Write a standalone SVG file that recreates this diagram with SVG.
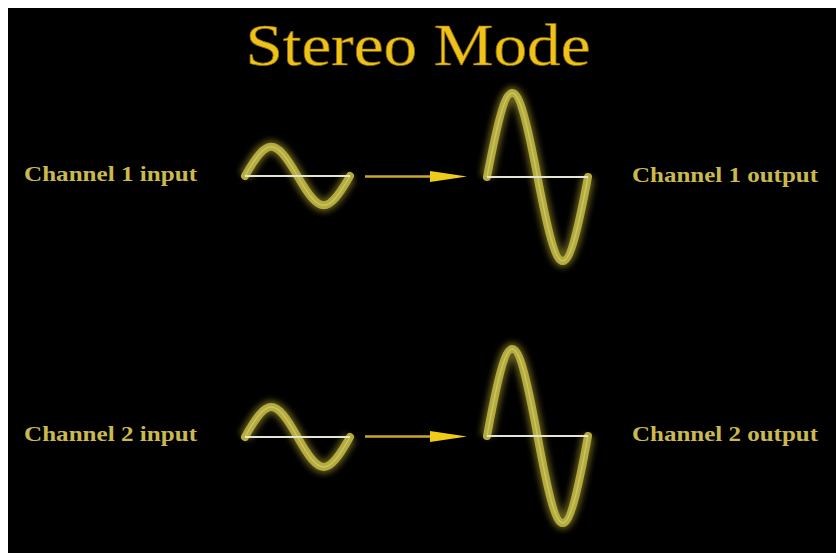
<svg xmlns="http://www.w3.org/2000/svg" width="836" height="553" viewBox="0 0 836 553">
<defs>
<filter id="glow" x="-30%" y="-30%" width="160%" height="160%"><feGaussianBlur stdDeviation="3"/></filter>
<style>
.lbl{font-family:"Liberation Serif","Times New Roman",serif;font-size:21px;font-weight:bold;fill:#c9b94e}
.title{font-family:"Liberation Serif","Times New Roman",serif;font-size:60px;fill:#eec21a;stroke:#8a6a00;stroke-width:0.7}
.wglow{fill:none;stroke:#a89a30;stroke-width:13;opacity:0.6;filter:url(#glow)}
.wave{fill:none;stroke:#b5ac3e;stroke-width:8;stroke-linecap:round}
.wcore{fill:none;stroke:#e4dc8a;stroke-width:1.5;opacity:0.5}
.axis{stroke:#e6e4d4;stroke-width:2}
.arr{stroke:#c6a92a;stroke-width:2.5}
.head{fill:#f0cc18}
</style>
</defs>
<rect x="0" y="0" width="836" height="553" fill="#ffffff"/>
<rect x="8" y="8" width="828" height="545" fill="#000000"/>
<g id="title"><text class="title" x="418" y="65" text-anchor="middle" textLength="345" lengthAdjust="spacingAndGlyphs">Stereo Mode</text></g>
<g id="ch1-in-label"><text class="lbl" x="24" y="181" textLength="173" lengthAdjust="spacingAndGlyphs">Channel 1 input</text></g>
<g id="ch1-out-label"><text class="lbl" x="632" y="182" textLength="186" lengthAdjust="spacingAndGlyphs">Channel 1 output</text></g>
<g id="ch2-in-label"><text class="lbl" x="24" y="441" textLength="173" lengthAdjust="spacingAndGlyphs">Channel 2 input</text></g>
<g id="ch2-out-label"><text class="lbl" x="632" y="441" textLength="186" lengthAdjust="spacingAndGlyphs">Channel 2 output</text></g>
<g id="ch1-in-wave">
<path class="wglow" d="M245,176 C267.3,137 275.2,137 297.5,176 C319.8,215 327.7,215 350,176"/>
<path class="wave" d="M245,176 C267.3,137 275.2,137 297.5,176 C319.8,215 327.7,215 350,176"/>
<path class="wcore" d="M245,176 C267.3,137 275.2,137 297.5,176 C319.8,215 327.7,215 350,176"/>
<line class="axis" x1="245" y1="176" x2="350" y2="176"/>
</g>
<g id="ch1-out-wave">
<path class="wglow" d="M487,177 C508.4,65 516.1,65 537.5,177 C558.9,289 566.6,289 588,177"/>
<path class="wave" d="M487,177 C508.4,65 516.1,65 537.5,177 C558.9,289 566.6,289 588,177"/>
<path class="wcore" d="M487,177 C508.4,65 516.1,65 537.5,177 C558.9,289 566.6,289 588,177"/>
<line class="axis" x1="487" y1="177" x2="588" y2="177"/>
</g>
<g id="ch2-in-wave">
<path class="wglow" d="M245,437 C267.3,397 275.2,397 297.5,437 C319.8,477 327.7,477 350,437"/>
<path class="wave" d="M245,437 C267.3,397 275.2,397 297.5,437 C319.8,477 327.7,477 350,437"/>
<path class="wcore" d="M245,437 C267.3,397 275.2,397 297.5,437 C319.8,477 327.7,477 350,437"/>
<line class="axis" x1="245" y1="437" x2="350" y2="437"/>
</g>
<g id="ch2-out-wave">
<path class="wglow" d="M487,436 C508.4,320 516.1,320 537.5,436 C558.9,552 566.6,552 588,436"/>
<path class="wave" d="M487,436 C508.4,320 516.1,320 537.5,436 C558.9,552 566.6,552 588,436"/>
<path class="wcore" d="M487,436 C508.4,320 516.1,320 537.5,436 C558.9,552 566.6,552 588,436"/>
<line class="axis" x1="487" y1="436" x2="588" y2="436"/>
</g>
<g id="connectors">
<line class="arr" x1="365" y1="176.5" x2="432" y2="176.5"/>
<polygon class="head" points="430,171 467,176.5 430,182"/>
<line class="arr" x1="365" y1="436.5" x2="432" y2="436.5"/>
<polygon class="head" points="430,431 467,436.5 430,442"/>
</g>
</svg>
